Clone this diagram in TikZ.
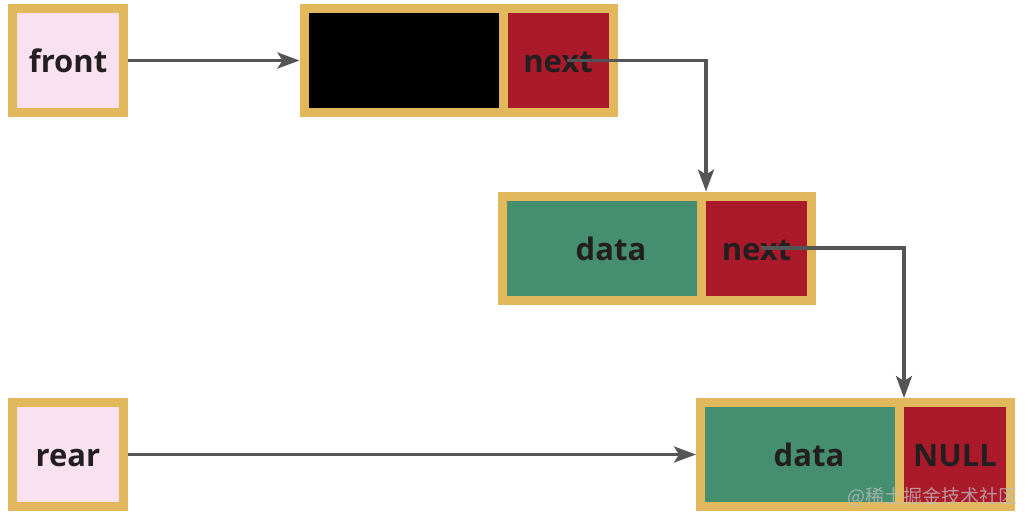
\documentclass[tikz,border=0pt]{standalone}
\usepackage{fontspec}
\setmainfont{Open Sans}
\newfontfamily\cjk{Noto Sans CJK SC}
\usetikzlibrary{arrows.meta,calc}
\definecolor{gold}{HTML}{E1B85B}
\definecolor{pinkfill}{HTML}{F9E1EF}
\definecolor{greenfill}{HTML}{458E6F}
\definecolor{redfill}{HTML}{AB1A2B}
\definecolor{txt}{HTML}{231F20}
\definecolor{arrowgray}{HTML}{555555}
\tikzset{
  cell/.style={draw=gold, line width=9pt, outer sep=4.5pt, minimum height=104pt,
    inner sep=0pt, text height=28pt, text depth=4pt,
    font=\fontsize{31}{31}\selectfont\bfseries, text=txt},
  ptrbox/.style={cell, fill=pinkfill, minimum width=111pt},
  datacell/.style={cell, fill=greenfill, minimum width=199pt,
    execute at begin node={\hspace*{18pt}}},
  nextcell/.style={cell, fill=redfill, minimum width=110pt},
  link/.style={draw=arrowgray, line width=3.5pt, -{Stealth[length=22pt,width=16pt,inset=5pt]}}
}
\begin{document}
\begin{tikzpicture}[x=1pt,y=-1pt]
\useasboundingbox (0,0) rectangle (1026,515);
% front pointer and first node
\node[ptrbox] (front) at (68,60.5) {front};
\node[datacell, fill=black] (n1a) at (403.5,60.5) {};
\node[nextcell] (n1b) at (558,60.5) {next};
% second node
\node[datacell] (n2a) at (602,248) {data};
\node[nextcell] (n2b) at (756.5,248) {next};
% third node and rear pointer
\node[datacell] (n3a) at (800,454.5) {data};
\node[nextcell, minimum width=111pt] (n3b) at (955,454.5) {NULL};
\node[ptrbox] (rear) at (68,454.5) {rear};
% connectors
\draw[link] (front.east) -- (n1a.west);
\draw[link] ($(n1b.center)+(9,0)$) -| (n2a.north east);
\draw[link] ($(n2b.center)+(4,0)$) -| (n3a.north east);
\draw[link] (rear.east) -- (n3a.west);
% watermark
\node[text=white!75!black, opacity=0.75, font=\cjk\fontsize{19}{19}\selectfont, anchor=east] (wm) at (1021,497) {@稀土掘金技术社区};
\end{tikzpicture}
\end{document}
